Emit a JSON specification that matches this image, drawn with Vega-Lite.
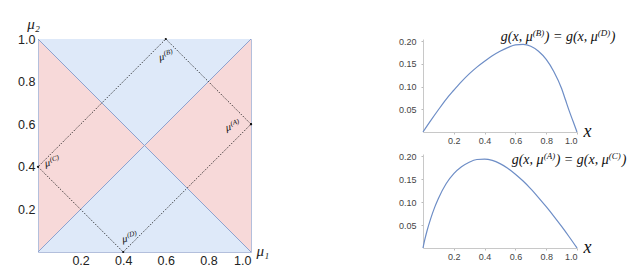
{
  "$schema": "https://vega.github.io/schema/vega-lite/v6.json",
  "background": "white",
  "padding": {"left": 17, "top": 15, "right": 0, "bottom": 0},
  "bounds": "flush",
  "spacing": 172,
  "config": {"font": "Liberation Sans", "axis": {"grid": false, "labelOverlap": false, "tickCount": 10}},
  "datasets": {
    "tri": [
      {"tri": "top", "x": 0, "y": 1, "y2": 1},
      {"tri": "top", "x": 0.5, "y": 0.5, "y2": 1},
      {"tri": "top", "x": 1, "y": 1, "y2": 1},
      {"tri": "bottom", "x": 0, "y": 0, "y2": 0},
      {"tri": "bottom", "x": 0.5, "y": 0, "y2": 0.5},
      {"tri": "bottom", "x": 1, "y": 0, "y2": 0}
    ],
    "diag": [
      {"d": "up", "x": 0, "y": 0}, {"d": "up", "x": 1, "y": 1},
      {"d": "down", "x": 0, "y": 1}, {"d": "down", "x": 1, "y": 0}
    ],
    "rect": [
      {"o": 0, "p": "A", "x": 1, "y": 0.6},
      {"o": 1, "p": "B", "x": 0.6, "y": 1},
      {"o": 2, "p": "C", "x": 0, "y": 0.4},
      {"o": 3, "p": "D", "x": 0.4, "y": 0},
      {"o": 4, "p": "A", "x": 1, "y": 0.6}
    ],
    "labels": [
      {"name": "A", "sup": "(A)", "x": 0.905, "y": 0.588},
      {"name": "B", "sup": "(B)", "x": 0.592, "y": 0.917},
      {"name": "C", "sup": "(C)", "x": 0.056, "y": 0.419},
      {"name": "D", "sup": "(D)", "x": 0.419, "y": 0.064}
    ],
    "gTop": [
      {"x": 0, "g": 0}, {"x": 0.05, "g": 0.025}, {"x": 0.1, "g": 0.049}, {"x": 0.15, "g": 0.072},
      {"x": 0.2, "g": 0.092}, {"x": 0.25, "g": 0.111}, {"x": 0.3, "g": 0.128}, {"x": 0.35, "g": 0.143},
      {"x": 0.4, "g": 0.156}, {"x": 0.45, "g": 0.168}, {"x": 0.5, "g": 0.178}, {"x": 0.55, "g": 0.186},
      {"x": 0.6, "g": 0.192}, {"x": 0.65, "g": 0.193}, {"x": 0.7, "g": 0.189}, {"x": 0.75, "g": 0.178},
      {"x": 0.8, "g": 0.16}, {"x": 0.85, "g": 0.133}, {"x": 0.9, "g": 0.096}, {"x": 0.925, "g": 0.071},
      {"x": 0.95, "g": 0.046}, {"x": 0.975, "g": 0.023}, {"x": 1, "g": 0}
    ],
    "gBottom": [
      {"x": 0, "g": 0}, {"x": 0.01, "g": 0.016}, {"x": 0.025, "g": 0.036}, {"x": 0.05, "g": 0.064},
      {"x": 0.075, "g": 0.088}, {"x": 0.1, "g": 0.108}, {"x": 0.15, "g": 0.14}, {"x": 0.2, "g": 0.162},
      {"x": 0.25, "g": 0.177}, {"x": 0.3, "g": 0.187}, {"x": 0.35, "g": 0.193}, {"x": 0.4, "g": 0.194},
      {"x": 0.45, "g": 0.191}, {"x": 0.5, "g": 0.184}, {"x": 0.55, "g": 0.174}, {"x": 0.6, "g": 0.161},
      {"x": 0.65, "g": 0.146}, {"x": 0.7, "g": 0.129}, {"x": 0.75, "g": 0.11}, {"x": 0.8, "g": 0.09},
      {"x": 0.85, "g": 0.069}, {"x": 0.9, "g": 0.047}, {"x": 0.95, "g": 0.024}, {"x": 1, "g": 0}
    ],
    "ann": [
      {"panel": "top", "x": 0.505, "y": 0.2, "p1": "g(x, μ", "s1": "(B)", "p2": ") = g(x, μ", "s2": "(D)", "p3": ")"},
      {"panel": "bottom", "x": 0.576, "y": 0.184, "p1": "g(x, μ", "s1": "(A)", "p2": ") = g(x, μ", "s2": "(C)", "p3": ")"}
    ]
  },
  "hconcat": [
    {
      "width": 213,
      "height": 213,
      "view": {"fill": "#f7d9d9", "stroke": "#b3bfdc", "strokeWidth": 1},
      "layer": [
        {
          "data": {"name": "tri"},
          "mark": {"type": "area", "fill": "#dee9f9", "interpolate": "linear"},
          "encoding": {
            "x": {"field": "x", "type": "quantitative", "scale": {"domain": [0, 1], "nice": false},
              "axis": {"values": [0.2, 0.4, 0.6, 0.8, 1], "format": ".1f", "labelFontSize": 12.5, "labelColor": "#222",
                "ticks": false, "domain": false, "labelPadding": 2, "labelOverlap": false,
                "title": "μ₁", "titleX": 218, "titleY": 3, "titleAlign": "left", "titleBaseline": "alphabetic",
                "titleFont": "Liberation Serif", "titleFontStyle": "italic", "titleFontWeight": "normal", "titleFontSize": 15, "titleColor": "#222"}},
            "y": {"field": "y", "type": "quantitative", "scale": {"domain": [0, 1], "nice": false},
              "axis": {"values": [0.2, 0.4, 0.6, 0.8, 1], "format": ".1f", "labelFontSize": 12.5, "labelColor": "#222",
                "ticks": false, "domain": false, "labelPadding": 3, "labelOverlap": false,
                "title": "μ₂", "titleAngle": 0, "titleX": -5, "titleY": -11, "titleAlign": "center", "titleBaseline": "alphabetic",
                "titleFont": "Liberation Serif", "titleFontStyle": "italic", "titleFontWeight": "normal", "titleFontSize": 15, "titleColor": "#222"}},
            "y2": {"field": "y2"},
            "detail": {"field": "tri"}
          }
        },
        {
          "data": {"name": "diag"},
          "mark": {"type": "line", "color": "#8ea2cf", "strokeWidth": 1},
          "encoding": {
            "x": {"field": "x", "type": "quantitative"},
            "y": {"field": "y", "type": "quantitative"},
            "detail": {"field": "d"}
          }
        },
        {
          "data": {"name": "rect"},
          "mark": {"type": "line", "color": "#111", "strokeWidth": 1, "strokeDash": [1, 1.6]},
          "encoding": {
            "x": {"field": "x", "type": "quantitative"},
            "y": {"field": "y", "type": "quantitative"},
            "order": {"field": "o", "type": "quantitative"}
          }
        },
        {
          "data": {"name": "rect"},
          "mark": {"type": "point", "filled": true, "color": "#111", "size": 5, "opacity": 1},
          "encoding": {
            "x": {"field": "x", "type": "quantitative"},
            "y": {"field": "y", "type": "quantitative"}
          }
        },
        {
          "data": {"name": "labels"},
          "mark": {"type": "text", "text": "μ", "font": "Liberation Serif", "fontStyle": "italic", "fontSize": 10.5, "align": "right", "baseline": "alphabetic", "color": "#111", "dy": 3},
          "encoding": {
            "x": {"field": "x", "type": "quantitative"},
            "y": {"field": "y", "type": "quantitative"},
            "angle": {"field": "name", "type": "ordinal", "scale": {"domain": ["A", "B", "C", "D"], "range": [-15, -12, -30, -18]}, "legend": null}
          }
        },
        {
          "data": {"name": "labels"},
          "mark": {"type": "text", "font": "Liberation Serif", "fontStyle": "italic", "fontSize": 7, "align": "left", "baseline": "alphabetic", "color": "#111", "dx": 0.5, "dy": -1},
          "encoding": {
            "x": {"field": "x", "type": "quantitative"},
            "y": {"field": "y", "type": "quantitative"},
            "text": {"field": "sup"},
            "angle": {"field": "name", "type": "ordinal", "scale": {"domain": ["A", "B", "C", "D"], "range": [-15, -12, -30, -18]}, "legend": null}
          }
        }
      ]
    },
    {
      "bounds": "flush",
      "spacing": 22,
      "vconcat": [
        {
          "width": 154,
          "height": 93,
          "view": {"stroke": null},
          "layer": [
            {
              "data": {"name": "gTop"},
              "mark": {"type": "line", "color": "#6d8dc6", "strokeWidth": 1.2, "interpolate": "monotone"},
              "encoding": {
                "x": {"field": "x", "type": "quantitative", "scale": {"domain": [0, 1], "nice": false},
                  "axis": {"values": [0.2, 0.4, 0.6, 0.8, 1], "tickCount": 10, "format": ".1f", "labelFontSize": 9, "labelColor": "#444", "labelOverlap": false,
                    "domainColor": "#c8c8c8", "tickColor": "#bbbbbb", "tickSize": 2, "labelPadding": 2,
                    "title": "x", "titleFont": "Liberation Serif", "titleFontStyle": "italic", "titleFontWeight": "normal", "titleFontSize": 18,
                    "titleX": 160, "titleY": 4, "titleAlign": "left", "titleBaseline": "alphabetic", "titleColor": "#111"}},
                "y": {"field": "g", "type": "quantitative", "scale": {"domain": [0, 0.205], "nice": false},
                  "axis": {"values": [0.05, 0.1, 0.15, 0.2], "tickCount": 10, "format": ".2f", "labelFontSize": 9, "labelColor": "#444", "labelOverlap": false,
                    "domainColor": "#c8c8c8", "tickColor": "#bbbbbb", "tickSize": 2, "labelPadding": 5, "title": null}}
              }
            },
            {
              "data": {"name": "ann"},
              "transform": [{"filter": "datum.panel === 'top'"}],
              "mark": {"type": "text", "font": "Liberation Serif", "fontStyle": "italic", "fontSize": 14, "align": "left", "baseline": "alphabetic", "color": "#111"},
              "encoding": {"x": {"field": "x", "type": "quantitative"}, "y": {"field": "y", "type": "quantitative"}, "text": {"field": "p1"}}
            },
            {
              "data": {"name": "ann"},
              "transform": [{"filter": "datum.panel === 'top'"}],
              "mark": {"type": "text", "font": "Liberation Serif", "fontStyle": "italic", "fontSize": 9, "align": "left", "baseline": "alphabetic", "color": "#111", "dx": 32, "dy": -5},
              "encoding": {"x": {"field": "x", "type": "quantitative"}, "y": {"field": "y", "type": "quantitative"}, "text": {"field": "s1"}}
            },
            {
              "data": {"name": "ann"},
              "transform": [{"filter": "datum.panel === 'top'"}],
              "mark": {"type": "text", "font": "Liberation Serif", "fontStyle": "italic", "fontSize": 14, "align": "left", "baseline": "alphabetic", "color": "#111", "dx": 44},
              "encoding": {"x": {"field": "x", "type": "quantitative"}, "y": {"field": "y", "type": "quantitative"}, "text": {"field": "p2"}}
            },
            {
              "data": {"name": "ann"},
              "transform": [{"filter": "datum.panel === 'top'"}],
              "mark": {"type": "text", "font": "Liberation Serif", "fontStyle": "italic", "fontSize": 9, "align": "left", "baseline": "alphabetic", "color": "#111", "dx": 97, "dy": -5},
              "encoding": {"x": {"field": "x", "type": "quantitative"}, "y": {"field": "y", "type": "quantitative"}, "text": {"field": "s2"}}
            },
            {
              "data": {"name": "ann"},
              "transform": [{"filter": "datum.panel === 'top'"}],
              "mark": {"type": "text", "font": "Liberation Serif", "fontStyle": "italic", "fontSize": 14, "align": "left", "baseline": "alphabetic", "color": "#111", "dx": 110},
              "encoding": {"x": {"field": "x", "type": "quantitative"}, "y": {"field": "y", "type": "quantitative"}, "text": {"field": "p3"}}
            }
          ]
        },
        {
          "width": 154,
          "height": 94,
          "view": {"stroke": null},
          "layer": [
            {
              "data": {"name": "gBottom"},
              "mark": {"type": "line", "color": "#6d8dc6", "strokeWidth": 1.2, "interpolate": "monotone"},
              "encoding": {
                "x": {"field": "x", "type": "quantitative", "scale": {"domain": [0, 1], "nice": false},
                  "axis": {"values": [0.2, 0.4, 0.6, 0.8, 1], "tickCount": 10, "format": ".1f", "labelFontSize": 9, "labelColor": "#444", "labelOverlap": false,
                    "domainColor": "#c8c8c8", "tickColor": "#bbbbbb", "tickSize": 2, "labelPadding": 2,
                    "title": "x", "titleFont": "Liberation Serif", "titleFontStyle": "italic", "titleFontWeight": "normal", "titleFontSize": 18,
                    "titleX": 160, "titleY": 4, "titleAlign": "left", "titleBaseline": "alphabetic", "titleColor": "#111"}},
                "y": {"field": "g", "type": "quantitative", "scale": {"domain": [0, 0.205], "nice": false},
                  "axis": {"values": [0.05, 0.1, 0.15, 0.2], "tickCount": 10, "format": ".2f", "labelFontSize": 9, "labelColor": "#444", "labelOverlap": false,
                    "domainColor": "#c8c8c8", "tickColor": "#bbbbbb", "tickSize": 2, "labelPadding": 5, "title": null}}
              }
            },
            {
              "data": {"name": "ann"},
              "transform": [{"filter": "datum.panel === 'bottom'"}],
              "mark": {"type": "text", "font": "Liberation Serif", "fontStyle": "italic", "fontSize": 14, "align": "left", "baseline": "alphabetic", "color": "#111"},
              "encoding": {"x": {"field": "x", "type": "quantitative"}, "y": {"field": "y", "type": "quantitative"}, "text": {"field": "p1"}}
            },
            {
              "data": {"name": "ann"},
              "transform": [{"filter": "datum.panel === 'bottom'"}],
              "mark": {"type": "text", "font": "Liberation Serif", "fontStyle": "italic", "fontSize": 9, "align": "left", "baseline": "alphabetic", "color": "#111", "dx": 32, "dy": -5},
              "encoding": {"x": {"field": "x", "type": "quantitative"}, "y": {"field": "y", "type": "quantitative"}, "text": {"field": "s1"}}
            },
            {
              "data": {"name": "ann"},
              "transform": [{"filter": "datum.panel === 'bottom'"}],
              "mark": {"type": "text", "font": "Liberation Serif", "fontStyle": "italic", "fontSize": 14, "align": "left", "baseline": "alphabetic", "color": "#111", "dx": 44},
              "encoding": {"x": {"field": "x", "type": "quantitative"}, "y": {"field": "y", "type": "quantitative"}, "text": {"field": "p2"}}
            },
            {
              "data": {"name": "ann"},
              "transform": [{"filter": "datum.panel === 'bottom'"}],
              "mark": {"type": "text", "font": "Liberation Serif", "fontStyle": "italic", "fontSize": 9, "align": "left", "baseline": "alphabetic", "color": "#111", "dx": 97, "dy": -5},
              "encoding": {"x": {"field": "x", "type": "quantitative"}, "y": {"field": "y", "type": "quantitative"}, "text": {"field": "s2"}}
            },
            {
              "data": {"name": "ann"},
              "transform": [{"filter": "datum.panel === 'bottom'"}],
              "mark": {"type": "text", "font": "Liberation Serif", "fontStyle": "italic", "fontSize": 14, "align": "left", "baseline": "alphabetic", "color": "#111", "dx": 110},
              "encoding": {"x": {"field": "x", "type": "quantitative"}, "y": {"field": "y", "type": "quantitative"}, "text": {"field": "p3"}}
            }
          ]
        }
      ]
    }
  ]
}
